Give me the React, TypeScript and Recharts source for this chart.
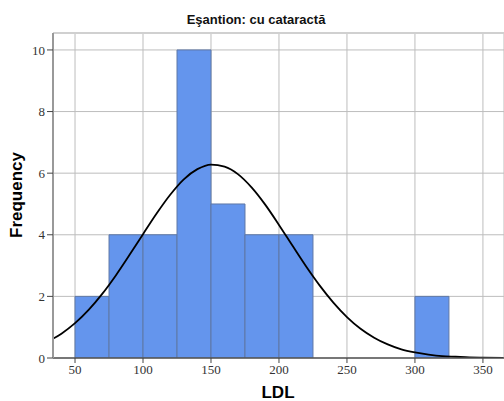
import React from 'react';
import { ComposedChart, Bar, Line, XAxis, YAxis, CartesianGrid, ReferenceLine } from 'recharts';

// histogram bins (bin centres, width 25)
const binMids = [62.5, 87.5, 112.5, 137.5, 162.5, 187.5, 212.5, 237.5, 262.5, 287.5, 312.5];
const binCounts = [2, 4, 4, 10, 5, 4, 4, 0, 0, 0, 2];

// normal curve
const curveX = [34, 40, 50, 60, 70, 80, 90, 100, 110, 120, 130, 140, 150, 160, 170, 180, 190, 200, 210, 220, 230, 240, 250, 260, 270, 280, 290, 300, 310, 320, 330, 340, 350, 365];
const curveY = [0.63, 0.79, 1.13, 1.56, 2.08, 2.68, 3.34, 4.02, 4.69, 5.3, 5.8, 6.13, 6.28, 6.21, 5.96, 5.53, 4.97, 4.32, 3.64, 2.97, 2.35, 1.8, 1.33, 0.95, 0.66, 0.44, 0.28, 0.18, 0.11, 0.06, 0.04, 0.02, 0.01, 0];

const xTicks = [50, 100, 150, 200, 250, 300, 350];
const yTicks = [0, 2, 4, 6, 8, 10];

const bins = binMids.map((mid, i) => ({ mid, count: binCounts[i] }));
const curve = curveX.map((x, i) => ({ x, y: curveY[i] }));

const X_DOMAIN: [number, number] = [33.8, 365.5];
const Y_MAX = 10.55;

const tickStyle = { fontFamily: 'Liberation Serif', fontSize: 13, fill: '#333' };
const labelFont = 'Liberation Sans, Arial, sans-serif';

const App = () => {
  return (
    <div style={{ position: 'relative', width: 504, height: 401, background: '#fff', overflow: 'hidden' }}>
      <style>{'body{margin:0}'}</style>
      <div
        style={{
          position: 'absolute',
          left: 256,
          top: 12,
          transform: 'translateX(-50%)',
          whiteSpace: 'nowrap',
          fontFamily: labelFont,
          fontWeight: 'bold',
          fontSize: 13,
          lineHeight: '16px',
          color: '#111',
        }}
      >
        Eşantion: cu cataractă
      </div>
      <div
        style={{
          position: 'absolute',
          left: 16.5,
          top: 195,
          transform: 'translate(-50%, -50%) rotate(-90deg)',
          whiteSpace: 'nowrap',
          fontFamily: labelFont,
          fontWeight: 'bold',
          fontSize: 17,
          lineHeight: '20px',
          color: '#000',
        }}
      >
        Frequency
      </div>
      <div
        style={{
          position: 'absolute',
          left: 278,
          top: 386,
          transform: 'translateX(-50%)',
          whiteSpace: 'nowrap',
          fontFamily: labelFont,
          fontWeight: 'bold',
          fontSize: 17,
          lineHeight: '14px',
          color: '#000',
        }}
      >
        LDL
      </div>
      <ComposedChart
        width={504}
        height={401}
        data={bins}
        margin={{ top: 33, right: 0, bottom: 0, left: 0 }}
        barCategoryGap={0}
        barGap={0}
      >
        <CartesianGrid stroke="#bdbdbd" strokeWidth={1} />
        <XAxis
          type="number"
          dataKey="mid"
          domain={X_DOMAIN}
          ticks={xTicks}
          allowDataOverflow
          height={43}
          tick={tickStyle}
          tickSize={5}
          tickLine={{ stroke: '#444' }}
          axisLine={{ stroke: '#555', strokeWidth: 1.5 }}
        />
        <XAxis xAxisId="curve" type="number" dataKey="x" domain={X_DOMAIN} allowDataOverflow hide />
        <YAxis
          type="number"
          domain={[0, Y_MAX]}
          ticks={yTicks}
          allowDataOverflow
          width={53}
          tick={tickStyle}
          tickSize={6}
          tickLine={{ stroke: '#444' }}
          axisLine={{ stroke: '#999', strokeWidth: 2 }}
        />
        <ReferenceLine y={Y_MAX} stroke="#d0d0d0" strokeWidth={2} />
        <Bar dataKey="count" fill="#6495ED" stroke="#5f78a6" strokeWidth={1} isAnimationActive={false} />
        <Line
          xAxisId="curve"
          data={curve}
          dataKey="y"
          type="monotone"
          stroke="#000"
          strokeWidth={1.8}
          dot={false}
          activeDot={false}
          isAnimationActive={false}
        />
      </ComposedChart>
    </div>
  );
};

export default App;
